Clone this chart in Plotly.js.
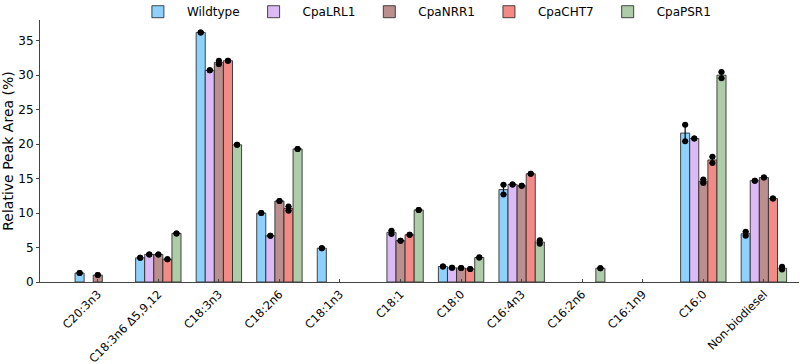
<!DOCTYPE html>
<html>
<head>
<meta charset="utf-8">
<script src="https://cdn.plot.ly/plotly-3.0.1.min.js"></script>
<style>html,body{margin:0;padding:0;background:#fff;}#chart{width:800px;height:364px;}</style>
</head>
<body>
<div id="chart"></div>
<script>
const categories = ["C20:3n3","C18:3n6 Δ5,9,12","C18:3n3","C18:2n6","C18:1n3","C18:1","C18:0","C16:4n3","C16:2n6","C16:1n9","C16:0","Non-biodiesel"];
const strains = ["Wildtype","CpaLRL1","CpaNRR1","CpaCHT7","CpaPSR1"];
const colors = ["#8ed1fa","#dcbaf5","#bc8f8f","#f28b86","#aecca8"];

// mean values (null = not detected)
const wildtypeMean = [1.3, 3.5, 36.2, 10.0, 4.9, null, 2.25, 13.4, null, null, 21.6, 7.0];
const lrl1Mean     = [null, 4.0, 30.7, 6.7, null, 7.2, 2.05, 14.15, null, null, 20.8, 14.7];
const nrr1Mean     = [1.0, 4.0, 31.85, 11.75, null, 6.0, 2.03, 13.95, null, null, 14.6, 15.15];
const cht7Mean     = [null, 3.3, 32.1, 10.65, null, 6.85, 1.9, 15.7, null, null, 17.7, 12.1];
const psr1Mean     = [null, 7.05, 19.9, 19.3, null, 10.45, 3.55, 5.8, 2.0, null, 30.0, 2.0];

// spread (+/-) between replicates
const wildtypeErr = [0, 0, 0, 0, 0, 0, 0, 0.7, 0, 0, 1.2, 0.3];
const lrl1Err     = [0, 0, 0, 0, 0, 0.25, 0, 0, 0, 0, 0, 0];
const nrr1Err     = [0, 0, 0.25, 0, 0, 0, 0, 0, 0, 0, 0.25, 0];
const cht7Err     = [0, 0, 0, 0.3, 0, 0, 0, 0, 0, 0, 0.45, 0];
const psr1Err     = [0, 0, 0, 0, 0, 0, 0, 0.25, 0, 0, 0.45, 0.2];

const means = [wildtypeMean, lrl1Mean, nrr1Mean, cht7Mean, psr1Mean];
const errs = [wildtypeErr, lrl1Err, nrr1Err, cht7Err, psr1Err];

const nS = strains.length;
const bargap = 0.25;
const bw = (1 - bargap) / nS;
const idx = categories.map((_, i) => i);
const traces = [];

strains.forEach((s, j) => {
  traces.push({
    type: 'bar', name: s, x: idx, y: means[j],
    marker: {color: colors[j], line: {color: 'rgba(40,40,40,0.85)', width: 1}},
    error_y: {type: 'data', array: errs[j], visible: true, color: '#000', thickness: 1.2, width: 3},
    hoverinfo: 'skip'
  });
});

// replicate dots
strains.forEach((s, j) => {
  const off = (j - (nS - 1) / 2) * bw;
  const xs = [], ys = [];
  means[j].forEach((m, i) => {
    if (m === null) return;
    const e = errs[j][i];
    xs.push(i + off); ys.push(m + e);
    xs.push(i + off); ys.push(m - e);
  });
  traces.push({
    type: 'scatter', mode: 'markers', x: xs, y: ys, showlegend: false,
    marker: {color: '#000', size: 6}, hoverinfo: 'skip'
  });
});

const layout = {
  width: 800, height: 364,
  margin: {l: 40, r: 1, t: 20, b: 82, autoexpand: false},
  paper_bgcolor: '#fff', plot_bgcolor: '#fff',
  font: {family: 'DejaVu Sans, sans-serif', size: 12, color: '#000'},
  barmode: 'group', bargap: bargap, bargroupgap: 0,
  showlegend: true,
  legend: {orientation: 'h', x: 0.528, xanchor: 'center', xref: 'container',
           y: 1.087, yanchor: 'top', yref: 'paper',
           font: {size: 12}, traceorder: 'normal', itemwidth: 48,
           bgcolor: 'rgba(0,0,0,0)'},
  xaxis: {
    range: [-0.954, 11.58], tickmode: 'array', tickvals: idx, ticktext: categories,
    tickangle: -45, ticks: 'inside', ticklen: 3, tickcolor: '#444',
    showline: true, linecolor: '#444', linewidth: 1, showgrid: false, zeroline: false,
    tickfont: {size: 11.5}, automargin: false
  },
  yaxis: {
    range: [0, 38], tickvals: [0,5,10,15,20,25,30,35],
    ticks: 'outside', ticklen: 3, tickcolor: '#444',
    showline: true, linecolor: '#444', linewidth: 1, showgrid: false, zeroline: false,
    title: {text: 'Relative Peak Area (%)', font: {size: 14}, standoff: 4},
    tickfont: {size: 12}, automargin: true
  }
};

Plotly.newPlot('chart', traces, layout, {displayModeBar: false, staticPlot: true});
</script>
</body>
</html>
